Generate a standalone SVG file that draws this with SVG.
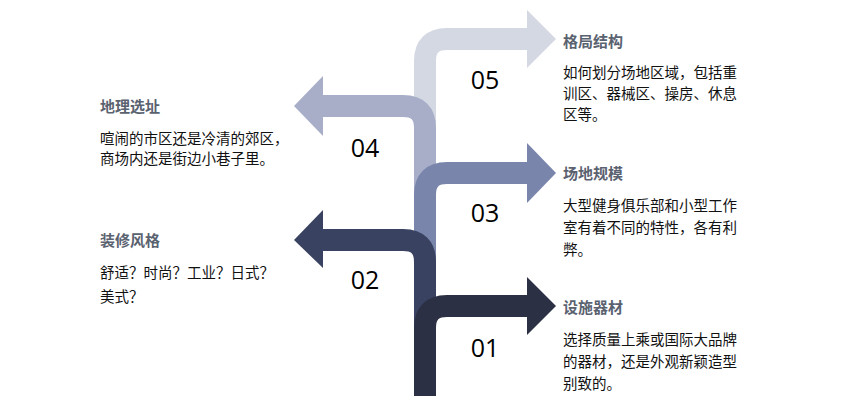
<svg xmlns="http://www.w3.org/2000/svg" width="866" height="402" viewBox="0 0 866 402">
<style>
.b{fill:none;stroke-width:22}
.n{font-family:"Open Sans","DejaVu Sans",sans-serif;font-size:25px;fill:#000;text-anchor:middle}
.t{font-family:"Liberation Sans","Noto Sans CJK SC",sans-serif;font-size:15px;font-weight:bold;fill:#5a6270}
.d{font-family:"Liberation Sans","Noto Sans CJK SC",sans-serif;font-size:14.5px;fill:#111}
</style>
<rect width="866" height="402" fill="#fff"/>
<g id="connectors">
<g id="a05"><path class="b" stroke="#d3d8e3" d="M425,396 V61 Q425,39 447,39 H528"/><polygon fill="#d3d8e3" points="527,10 556,39 527,68"/></g>
<g id="a04"><path class="b" stroke="#a8aec8" d="M425,396 V128 Q425,106 403,106 H322"/><polygon fill="#a8aec8" points="323,76 294,106 323,136"/></g>
<g id="a03"><path class="b" stroke="#7985ab" d="M425,396 V195 Q425,173 447,173 H528"/><polygon fill="#7985ab" points="527,143 556,173 527,203"/></g>
<g id="a02"><path class="b" stroke="#394260" d="M425,396 V262 Q425,240 403,240 H322"/><polygon fill="#394260" points="323,210 294,240 323,268"/></g>
<g id="a01"><path class="b" stroke="#2c3045" d="M425,396 V328 Q425,306 447,306 H528"/><polygon fill="#2c3045" points="527,277 556,306 527,335"/></g>
</g>
<g id="n05"><text class="n" x="485" y="89">05</text><text class="t" x="563" y="47">格局结构</text>
<text class="d" x="563" y="78">如何划分场地区域，包括重</text><text class="d" x="563" y="99">训区、器械区、操房、休息</text><text class="d" x="563" y="120">区等。</text></g>
<g id="n04"><text class="n" x="365" y="157">04</text><text class="t" x="100" y="112">地理选址</text>
<text class="d" x="100" y="144">喧闹的市区还是冷清的郊区，</text><text class="d" x="100" y="164">商场内还是街边小巷子里。</text></g>
<g id="n03"><text class="n" x="485" y="222">03</text><text class="t" x="563" y="179">场地规模</text>
<text class="d" x="563" y="211">大型健身俱乐部和小型工作</text><text class="d" x="563" y="233">室有着不同的特性，各有利</text><text class="d" x="563" y="255">弊。</text></g>
<g id="n02"><text class="n" x="365" y="289">02</text><text class="t" x="100" y="246">装修风格</text>
<text class="d" x="100" y="278">舒适？时尚？工业？日式？</text><text class="d" x="100" y="302">美式？</text></g>
<g id="n01"><text class="n" x="485" y="357">01</text><text class="t" x="563" y="313">设施器材</text>
<text class="d" x="563" y="345">选择质量上乘或国际大品牌</text><text class="d" x="563" y="367">的器材，还是外观新颖造型</text><text class="d" x="563" y="389">别致的。</text></g>
</svg>
